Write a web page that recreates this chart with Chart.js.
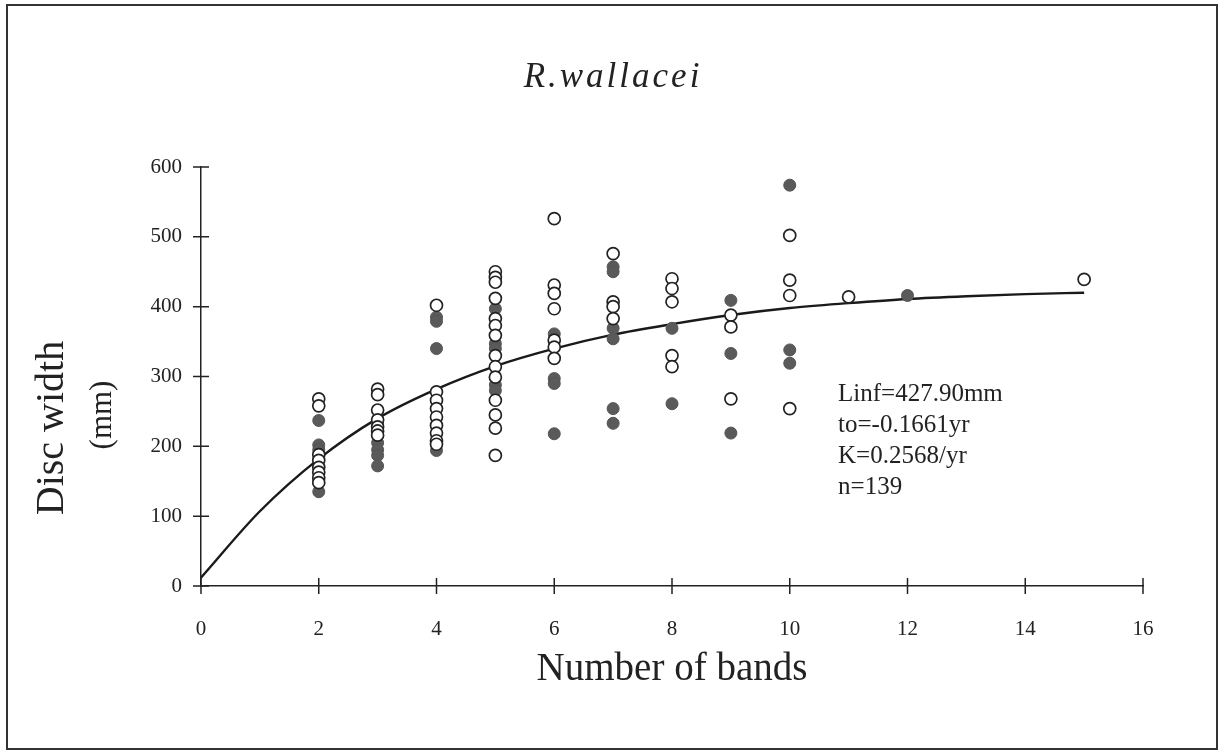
<!DOCTYPE html>
<html>
<head>
<meta charset="utf-8">
<script src="https://cdn.jsdelivr.net/npm/chart.js@4/dist/chart.umd.min.js"></script>
<style>
  html, body { margin: 0; padding: 0; background: #fff; }
  #wrap { width: 1223px; height: 756px; }
</style>
</head>
<body>
<div id="wrap"><canvas id="chart" width="1223" height="756"></canvas></div>
<script>
// open circles (band count, disc width mm)
const openBands  = [2,2,2,2,2,2,2,2, 3,3,3,3,3,3,3, 4,4,4,4,4,4,4,4,4,
                    5,5,5,5,5,5,5,5,5,5,5,5,5,5, 6,6,6,6,6,6,6, 7,7,7,7,
                    8,8,8,8,8, 9,9,9, 10,10,10,10, 11, 15];
const openWidths = [268,258,188,180,170,163,155,148, 282,274,252,238,228,222,216,
                    402,278,266,254,242,230,219,208,203,
                    450,442,435,412,383,373,359,330,314,299,266,245,226,187,
                    526,431,419,397,352,342,326, 476,407,400,383,
                    440,426,407,330,314, 388,371,268, 502,438,416,254, 414, 439];

// filled circles
const filledBands  = [2,2,2,2, 3,3,3,3,3, 4,4,4,4, 5,5,5,5,5, 6,6,6,6,
                      7,7,7,7,7,7, 8,8, 9,9,9, 10,10,10, 12];
const filledWidths = [237,202,195,135, 232,205,195,187,172, 385,379,340,194,
                      397,347,340,288,280, 361,297,290,218,
                      457,450,369,354,254,233, 369,261, 409,333,219, 574,338,319, 416];

// fitted growth curve
const curveBands  = [0,1,2,3,4,5,6,7,8,9,10,11,12,13,14,15];
const curveWidths = [12,107,182,240,282,315,340,360,375,388,398,405,411,415,418,420];

const xTicks = [0,2,4,6,8,10,12,14,16];
const yTicks = [0,100,200,300,400,500,600];

const fitNotes = ['Linf=427.90mm', 'to=-0.1661yr', 'K=0.2568/yr', 'n=139'];

const serif = '"Liberation Serif", "DejaVu Serif", serif';

function pairs(xs, ys) {
    return xs.map((x, i) => ({ x: x, y: ys[i] }));
}

// frame, title, axis titles, crossing ticks, fit notes
const decor = {
    id: 'decor',
    beforeDraw(chart) {
        const ctx = chart.ctx;
        ctx.save();
        ctx.fillStyle = '#fff';
        ctx.fillRect(0, 0, chart.width, chart.height);
        ctx.strokeStyle = '#333';
        ctx.lineWidth = 2;
        ctx.strokeRect(7, 5, 1210, 744);
        ctx.restore();
    },
    afterDraw(chart) {
        const ctx = chart.ctx;
        const x = chart.scales.x, y = chart.scales.y;
        const area = chart.chartArea;
        ctx.save();
        ctx.strokeStyle = '#222';
        ctx.lineWidth = 1.5;
        ctx.beginPath();
        xTicks.forEach(v => {
            const px = x.getPixelForValue(v);
            ctx.moveTo(px, area.bottom - 8);
            ctx.lineTo(px, area.bottom + 8);
        });
        yTicks.forEach(v => {
            const py = y.getPixelForValue(v);
            ctx.moveTo(area.left - 8, py);
            ctx.lineTo(area.left + 8, py);
        });
        ctx.stroke();

        ctx.fillStyle = '#222';
        ctx.textAlign = 'center';
        ctx.textBaseline = 'middle';

        // title
        ctx.font = 'italic 35px ' + serif;
        ctx.letterSpacing = '3px';
        ctx.fillText('R.wallacei', 613, 78);
        ctx.letterSpacing = '0px';

        // x axis title
        ctx.font = '39px ' + serif;
        ctx.fillText('Number of bands', (area.left + area.right) / 2, 670);

        // y axis title, two lines
        ctx.save();
        ctx.translate(52, 428);
        ctx.rotate(-Math.PI / 2);
        ctx.font = '40px ' + serif;
        ctx.fillText('Disc width', 0, 0);
        ctx.restore();
        ctx.save();
        ctx.translate(103, 415);
        ctx.rotate(-Math.PI / 2);
        ctx.font = '31px ' + serif;
        ctx.fillText('(mm)', 0, 0);
        ctx.restore();

        // fit parameters
        ctx.textAlign = 'left';
        ctx.font = '25px ' + serif;
        const nx = x.getPixelForValue(10.82);
        const ny = y.getPixelForValue(275);
        fitNotes.forEach((t, i) => ctx.fillText(t, nx, ny + i * 31));
        ctx.restore();
    }
};

new Chart(document.getElementById('chart'), {
    type: 'scatter',
    data: {
        datasets: [
            {
                label: 'open',
                data: pairs(openBands, openWidths),
                pointRadius: 6,
                pointBorderWidth: 1.7,
                borderColor: '#222',
                backgroundColor: '#fff'
            },
            {
                label: 'filled',
                data: pairs(filledBands, filledWidths),
                pointRadius: 6,
                pointBorderWidth: 1,
                borderColor: '#555',
                backgroundColor: '#5a5a5a'
            },
            {
                type: 'line',
                label: 'fit',
                data: pairs(curveBands, curveWidths),
                borderColor: '#1a1a1a',
                borderWidth: 2.4,
                pointRadius: 0,
                fill: false,
                cubicInterpolationMode: 'monotone'
            }
        ]
    },
    options: {
        responsive: false,
        animation: false,
        events: [],
        layout: {
            padding: { left: 150, right: 80, top: 167, bottom: 110 }
        },
        plugins: {
            legend: { display: false },
            tooltip: { enabled: false },
            title: { display: false }
        },
        scales: {
            x: {
                type: 'linear',
                min: 0,
                max: 16,
                afterBuildTicks: s => { s.ticks = xTicks.map(v => ({ value: v })); },
                afterFit: s => { s.height = 60; },
                grid: { display: false, drawTicks: false },
                border: { display: true, color: '#222', width: 1.5 },
                ticks: {
                    padding: 31,
                    color: '#222',
                    font: { family: serif, size: 21 }
                }
            },
            y: {
                min: 0,
                max: 600,
                afterBuildTicks: s => { s.ticks = yTicks.map(v => ({ value: v })); },
                afterFit: s => { s.width = 51; },
                grid: { display: false, drawTicks: false },
                border: { display: true, color: '#222', width: 1.5 },
                ticks: {
                    padding: 19,
                    color: '#222',
                    font: { family: serif, size: 21 }
                }
            }
        }
    },
    plugins: [decor]
});
</script>
</body>
</html>
